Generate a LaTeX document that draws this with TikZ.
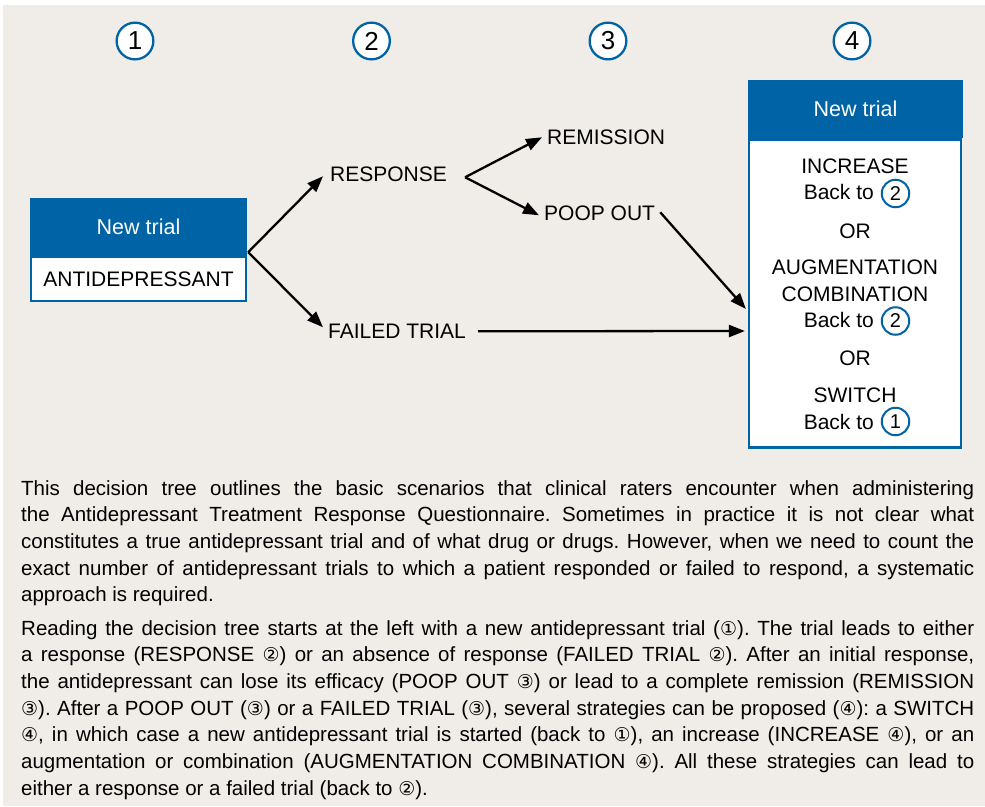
\documentclass[tikz,border=0pt]{standalone}
\usepackage{fontspec}
\setmainfont{Liberation Sans}
\newfontfamily\dejavu{DejaVu Sans}
\usetikzlibrary{arrows.meta}
\definecolor{dblue}{HTML}{0063A6}
\definecolor{bgc}{HTML}{F0EDE8}
\frenchspacing
\newcommand{\jline}[1]{\hbox to 953pt{#1}}
\newcommand{\circd}[1]{{\dejavu\fontsize{19}{19}\selectfont #1}}
\begin{document}
\begin{tikzpicture}[x=1pt,y=-1pt,
  lbl/.style={inner sep=0pt, anchor=base west, font=\fontsize{21}{25}\selectfont},
  boxtxt/.style={inner sep=0pt, anchor=base, font=\fontsize{21}{25}\selectfont},
  hdr/.style={fill=dblue, text=white, inner sep=0pt, font=\fontsize{21.5}{25}\selectfont},
  bodybox/.style={fill=white, draw=dblue, line width=2.2pt, inner sep=0pt, font=\fontsize{21}{25}\selectfont},
  bignum/.style={circle, draw=dblue, line width=2.3pt, fill=white, minimum size=36.7pt, inner sep=0pt, font=\fontsize{26}{26}\selectfont},
  smallnum/.style={circle, draw=dblue, line width=2pt, fill=white, minimum size=27.5pt, inner sep=0pt, font=\fontsize{20}{20}\selectfont},
  arr/.style={line width=2.3pt, -{Triangle[length=16pt,width=12pt]}},
]
\useasboundingbox (0,0) rectangle (985,806);
\fill[white] (0,0) rectangle (985,806);
\fill[bgc] (3,5) rectangle (985,806);

% step numbers
\node[bignum] (n1) at (135,41) {1};
\node[bignum] (n2) at (371.5,41) {2};
\node[bignum] (n3) at (608,41) {3};
\node[bignum] (n4) at (852,41) {4};

% left box
\node[bodybox, minimum width=214.8pt, minimum height=43.8pt] (lb) at (138.5,279) {ANTIDEPRESSANT};
\node[hdr, minimum width=217pt, minimum height=58pt] (lh) at (138.5,227) {New trial};

% labels
\node[lbl] (resp) at (330,181.5) {RESPONSE};
\node[lbl] (fail) at (328,338.5) {FAILED TRIAL};
\node[lbl] (rem) at (547,144.5) {REMISSION};
\node[lbl] (poop) at (544,220.5) {POOP OUT};

% right box
\node[bodybox, minimum width=212pt, minimum height=308pt] (rb) at (855,293.5) {};
\node[hdr, minimum width=215pt, minimum height=58pt] (rh) at (855.5,109) {New trial};

\node[boxtxt] (t1) at (855,173.5) {INCREASE};
\node[boxtxt, anchor=base east] (bk1) at (874,199.5) {Back to};
\node[smallnum] (c1) at (895.5,193.5) {2};
\node[boxtxt] (or1) at (855,238.5) {OR};
\node[boxtxt] (t2) at (855,274.5) {AUGMENTATION};
\node[boxtxt] (t3) at (855,301.5) {COMBINATION};
\node[boxtxt, anchor=base east] (bk2) at (874,327.5) {Back to};
\node[smallnum] (c2) at (895.5,321) {2};
\node[boxtxt] (or2) at (855,365.5) {OR};
\node[boxtxt] (t4) at (855,402.5) {SWITCH};
\node[boxtxt, anchor=base east] (bk3) at (874,429.5) {Back to};
\node[smallnum] (c3) at (895.5,421.5) {1};

% connectors
\draw[arr] ([shift={(1pt,4pt)}]lh.south east) -- ([shift={(-7pt,-2pt)}]resp.west);
\draw[arr] ([shift={(1pt,4pt)}]lh.south east) -- ([shift={(-5pt,4pt)}]fail.west);
\draw[arr] ([shift={(18pt,-3pt)}]resp.east) -- ([xshift=-5pt]rem.west);
\draw[arr] ([shift={(18pt,-3pt)}]resp.east) -- ([shift={(-5pt,-2pt)}]poop.west);
\draw[arr] ([shift={(5pt,1pt)}]poop.east) -- ([shift={(-2pt,-15.5pt)}]rb.west);
\draw[arr] ([xshift=12pt]fail.east) -- ([shift={(-3pt,-37.5pt)}]rb.west);

% caption text
\node[anchor=base west, inner sep=0pt] (para) at (21,495) {\begin{minipage}[t]{953pt}\fontsize{20.5}{26.7}\selectfont\setlength{\parindent}{0pt}%
\jline{This decision tree outlines the basic scenarios that clinical raters encounter when administering}
\jline{the Antidepressant Treatment Response Questionnaire. Sometimes in practice it is not clear what}
\jline{constitutes a true antidepressant trial and of what drug or drugs. However, when we need to count the}
\jline{exact number of antidepressant trials to which a patient responded or failed to respond, a systematic}
\hbox{approach is required.}
\vskip 6.5pt
\jline{Reading the decision tree starts at the left with a new antidepressant trial (\circd{①}). The trial leads to either}
\jline{a response (RESPONSE \circd{②}) or an absence of response (FAILED TRIAL \circd{②}). After an initial response,}
\jline{the antidepressant can lose its efficacy (POOP OUT \circd{③}) or lead to a complete remission (REMISSION}
\jline{\circd{③}). After a POOP OUT (\circd{③}) or a FAILED TRIAL (\circd{③}), several strategies can be proposed (\circd{④}): a SWITCH}
\jline{\circd{④}, in which case a new antidepressant trial is started (back to \circd{①}), an increase (INCREASE \circd{④}), or an}
\jline{augmentation or combination (AUGMENTATION COMBINATION \circd{④}). All these strategies can lead to}
\hbox{either a response or a failed trial (back to \circd{②}).}
\end{minipage}};
\end{tikzpicture}
\end{document}
